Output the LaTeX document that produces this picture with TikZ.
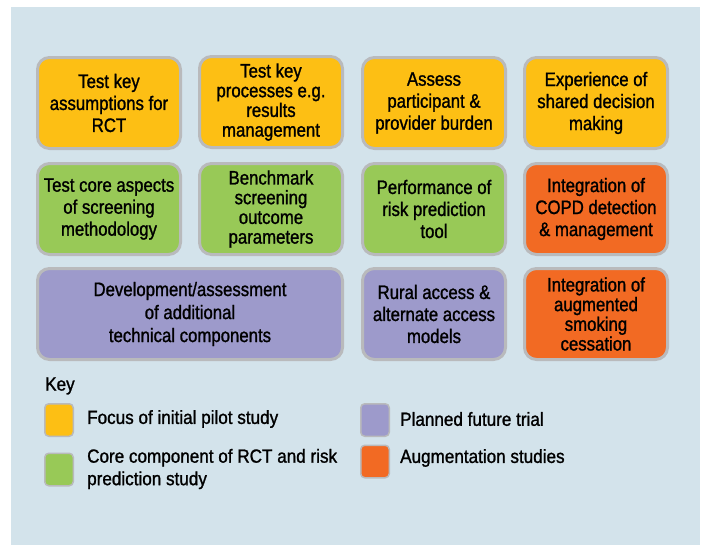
\documentclass[tikz,border=0pt]{standalone}
\usepackage{fontspec}
\setmainfont{Liberation Sans}[FakeBold=1.2]
\newfontfamily\boxfont{Liberation Sans}[FakeStretch=0.86,FakeBold=1.2]
\newfontfamily\keyfont{Liberation Sans}[FakeStretch=0.9,FakeBold=1.2]
\definecolor{cyel}{HTML}{FDBF14}
\definecolor{cgrn}{HTML}{98C957}
\definecolor{cpur}{HTML}{9D9ACB}
\definecolor{corg}{HTML}{F26A23}
\definecolor{cpan}{HTML}{D3E3EB}
\definecolor{cbrd}{HTML}{B9BABC}
\tikzset{
  box/.style={draw=cbrd, line width=3pt, rounded corners=12pt, align=center,
    minimum width=143pt, minimum height=91pt, inner sep=0pt,
    font=\boxfont\fontsize{19.5}{22}\selectfont},
  box4/.style={box, font=\boxfont\fontsize{19.5}{19.7}\selectfont},
  sw/.style={draw=cbrd, line width=1.5pt, rounded corners=4pt, minimum width=28.5pt, minimum height=32.5pt, inner sep=0pt},
  lt/.style={anchor=west, align=left, inner sep=0pt, font=\keyfont\fontsize{19}{22.5}\selectfont}
}
\begin{document}
\begin{tikzpicture}[x=1pt,y=1pt]
\useasboundingbox (0,0) rectangle (705,-547);
\fill[white] (0,0) rectangle (705,-547);
\fill[cpan] (11,-7) rectangle (700,-545);
% row 1
\node[box, fill=cyel] (b1) at (109,-103) {Test key\\assumptions for\\RCT};
\node[box4, fill=cyel] (b2) at (271,-102) {Test key\\processes e.g.\\results\\management};
\node[box, fill=cyel] (b3) at (434,-103) {Assess\\participant \&\\provider burden};
\node[box, fill=cyel] (b4) at (596,-103) {Experience of\\shared decision\\making};
% row 2
\node[box, fill=cgrn] (c1) at (109,-209) {Test core aspects\\of screening\\methodology};
\node[box4, fill=cgrn] (c2) at (271,-209) {Benchmark\\screening\\outcome\\parameters};
\node[box, fill=cgrn] (c3) at (434,-209) {Performance of\\risk prediction\\tool};
\node[box, fill=corg] (c4) at (596,-209) {Integration of\\COPD detection\\\& management};
% row 3
\node[box, fill=cpur, minimum width=305pt, font=\boxfont\fontsize{19.5}{23}\selectfont] (d1) at (190,-314) {Development/assessment\\of additional\\ technical components};
\node[box, fill=cpur] (d3) at (434,-314) {Rural access \&\\alternate access\\models};
\node[box4, fill=corg] (d4) at (596,-314) {Integration of\\augmented\\smoking\\cessation};
% key
\node[lt] (key) at (45,-386) {Key};
\node[sw, fill=cyel] (s1) at (59,-420) {};
\node[lt] (t1) at (87,-419) {Focus of initial pilot study};
\node[sw, fill=cgrn] (s2) at (59,-469.5) {};
\node[lt] (t2) at (87,-469) {Core component of RCT and risk\\prediction study};
\node[sw, fill=cpur] (s3) at (375,-420) {};
\node[lt] (t3) at (400,-419) {Planned future trial};
\node[sw, fill=corg] (s4) at (375,-461.5) {};
\node[lt] (t4) at (400,-458) {Augmentation studies};
\end{tikzpicture}
\end{document}
